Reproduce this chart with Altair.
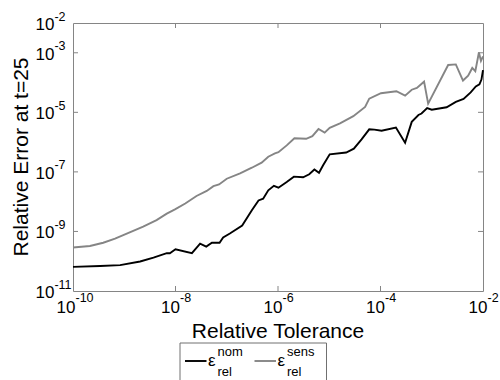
import altair as alt
import pandas as pd

# ---- data ----
tol_nom = [1e-10, 3.39e-10, 8.32e-10, 2.04e-9, 3.72e-9, 6.76e-9, 7.76e-9, 1e-8, 2.09e-8, 3.02e-8,
           3.98e-8, 5.13e-8, 7.24e-8, 8.51e-8, 1.15e-7, 2.0e-7, 3.09e-7, 4.17e-7, 5.13e-7, 6.46e-7,
           8.32e-7, 1.02e-6, 1.48e-6, 2.04e-6, 3.09e-6, 4.07e-6, 5.13e-6, 6.31e-6, 7.59e-6, 1.02e-5,
           2.14e-5, 3.02e-5, 4.27e-5, 6.03e-5, 7.59e-5, 1.05e-4, 2.0e-4, 3.02e-4, 4.07e-4, 5.50e-4,
           6.31e-4, 8.13e-4, 1e-3, 1.95e-3, 2.95e-3, 4.17e-3, 5.75e-3, 7.24e-3, 8.51e-3, 9.33e-3, 1e-2]
err_nom = [6.46e-11, 6.92e-11, 7.41e-11, 9.77e-11, 1.32e-10, 1.86e-10, 1.86e-10, 2.51e-10, 1.86e-10, 3.89e-10,
           3.09e-10, 4.17e-10, 4.17e-10, 6.31e-10, 8.51e-10, 1.58e-9, 5.13e-9, 1.10e-8, 1.26e-8, 2.40e-8,
           3.39e-8, 2.95e-8, 4.57e-8, 6.92e-8, 6.61e-8, 8.32e-8, 1.20e-7, 9.33e-8, 1.66e-7, 3.89e-7,
           4.47e-7, 6.03e-7, 1.23e-6, 2.69e-6, 2.63e-6, 2.40e-6, 3.09e-6, 9.55e-7, 4.79e-6, 8.13e-6,
           9.12e-6, 1.38e-5, 1.23e-5, 1.48e-5, 2.24e-5, 2.82e-5, 4.68e-5, 7.41e-5, 8.71e-5, 1.26e-4, 2.63e-4]

tol_sens = [1e-10, 2.14e-10, 3.89e-10, 6.61e-10, 1.12e-9, 2.34e-9, 4.27e-9, 6.76e-9, 9.77e-9, 1.55e-8,
            2.57e-8, 4.07e-8, 5.50e-8, 7.08e-8, 1e-7, 1.82e-7, 3.09e-7, 4.79e-7, 6.46e-7, 8.71e-7,
            1.02e-6, 1.48e-6, 2.09e-6, 3.55e-6, 4.68e-6, 6.17e-6, 8.13e-6, 1.02e-5, 1.62e-5, 2.95e-5,
            5.01e-5, 6.03e-5, 1.02e-4, 2.04e-4, 3.02e-4, 4.07e-4, 5.13e-4, 7.08e-4, 8.51e-4, 2.09e-3,
            2.95e-3, 4.07e-3, 5.13e-3, 6.17e-3, 7.08e-3, 8.32e-3, 9.12e-3, 1e-2]
err_sens = [2.88e-10, 3.24e-10, 4.17e-10, 5.75e-10, 8.51e-10, 1.45e-9, 2.40e-9, 3.98e-9, 5.50e-9, 8.71e-9,
            1.55e-8, 2.29e-8, 3.31e-8, 3.80e-8, 5.89e-8, 8.91e-8, 1.38e-7, 2.04e-7, 3.24e-7, 4.17e-7,
            4.57e-7, 7.76e-7, 1.35e-6, 1.29e-6, 1.58e-6, 2.75e-6, 2.09e-6, 3.02e-6, 4.27e-6, 7.41e-6,
            1.51e-5, 2.88e-5, 4.37e-5, 5.13e-5, 3.63e-5, 5.75e-5, 6.61e-5, 1.07e-4, 1.95e-5, 3.89e-4,
            4.07e-4, 1.17e-4, 1.70e-4, 3.09e-4, 2.40e-4, 1.02e-3, 5.37e-4, 7.59e-4]

x_tick_values = [1e-10, 1e-8, 1e-6, 1e-4, 1e-2]
x_tick_exps = ["-10", "-8", "-6", "-4", "-2"]
y_tick_values = [1e-2, 1e-3, 1e-5, 1e-7, 1e-9, 1e-11]
y_tick_exps = ["-2", "-3", "-5", "-7", "-9", "-11"]
x_inner_ticks = [1e-8, 1e-6, 1e-4]
y_inner_ticks = [1e-3, 1e-5, 1e-7, 1e-9]

x_title = "Relative Tolerance"
y_title = "Relative Error at t=25"
legend_symbol = "ε"
legend_sub = "rel"
legend_sups = ["nom", "sens"]

# ---- style ----
W, H = 410, 268
FONT = "Liberation Sans"
FRAME = "#858585"
GRAY = "#858585"

xs = alt.Scale(type="log", domain=[1e-10, 1e-2], nice=False)
ys = alt.Scale(type="log", domain=[1e-11, 1e-2], nice=False)

nom_df = pd.DataFrame({"tol": tol_nom, "err": err_nom})
sens_df = pd.DataFrame({"tol": tol_sens, "err": err_sens})

sens_line = alt.Chart(sens_df).mark_line(color=GRAY, strokeWidth=1.9).encode(
    x=alt.X("tol:Q", scale=xs, axis=None),
    y=alt.Y("err:Q", scale=ys, axis=None),
)
nom_line = alt.Chart(nom_df).mark_line(color="#000000", strokeWidth=1.9).encode(
    x=alt.X("tol:Q", scale=xs, axis=None),
    y=alt.Y("err:Q", scale=ys, axis=None),
)

xt_df = pd.DataFrame({"v": x_inner_ticks})
yt_df = pd.DataFrame({"v": y_inner_ticks})
tick_len = 5
xt_bottom = alt.Chart(xt_df).mark_rule(color=FRAME, strokeWidth=1).encode(
    x=alt.X("v:Q", scale=xs, axis=None), y=alt.value(H), y2=alt.value(H - tick_len))
xt_top = alt.Chart(xt_df).mark_rule(color=FRAME, strokeWidth=1).encode(
    x=alt.X("v:Q", scale=xs, axis=None), y=alt.value(0), y2=alt.value(tick_len))
yt_left = alt.Chart(yt_df).mark_rule(color=FRAME, strokeWidth=1).encode(
    y=alt.Y("v:Q", scale=ys, axis=None), x=alt.value(0), x2=alt.value(tick_len))
yt_right = alt.Chart(yt_df).mark_rule(color=FRAME, strokeWidth=1).encode(
    y=alt.Y("v:Q", scale=ys, axis=None), x=alt.value(W), x2=alt.value(W - tick_len))

BASE_FS = 17
EXP_FS = 12.5

xl_df = pd.DataFrame({"v": x_tick_values, "exp": x_tick_exps, "base": ["10"] * len(x_tick_values)})
yl_df = pd.DataFrame({"v": y_tick_values, "exp": y_tick_exps, "base": ["10"] * len(y_tick_values)})

def x_label_layers(cond, dx):
    base = alt.Chart(xl_df).transform_filter(cond).mark_text(
        font=FONT, fontSize=BASE_FS, align="right", baseline="alphabetic", dx=dx, color="#000000"
    ).encode(x=alt.X("v:Q", scale=xs, axis=None), y=alt.value(H + 22), text="base:N")
    exp = alt.Chart(xl_df).transform_filter(cond).mark_text(
        font=FONT, fontSize=EXP_FS, align="left", baseline="alphabetic", dx=dx, color="#000000"
    ).encode(x=alt.X("v:Q", scale=xs, axis=None), y=alt.value(H + 11), text="exp:N")
    return [base, exp]

xlab = x_label_layers("length(datum.exp) > 2", 2.5) + x_label_layers("length(datum.exp) <= 2", 4.5)

ylab_base = alt.Chart(yl_df).mark_text(
    font=FONT, fontSize=BASE_FS, align="left", baseline="alphabetic", dy=7, color="#000000"
).encode(y=alt.Y("v:Q", scale=ys, axis=None), x=alt.value(-37.5), text="base:N")
ylab_exp = alt.Chart(yl_df).mark_text(
    font=FONT, fontSize=EXP_FS, align="left", baseline="alphabetic", dy=-2.5, color="#000000"
).encode(y=alt.Y("v:Q", scale=ys, axis=None), x=alt.value(-18.6), text="exp:N")

xtitle = alt.Chart(pd.DataFrame({"t": [x_title]})).mark_text(
    font=FONT, fontSize=21, align="center", baseline="alphabetic", color="#000000"
).encode(x=alt.value(W / 2), y=alt.value(315), text="t:N")
ytitle = alt.Chart(pd.DataFrame({"t": [y_title]})).mark_text(
    font=FONT, fontSize=21, align="center", baseline="alphabetic", angle=270, color="#000000"
).encode(x=alt.value(-45), y=alt.value(H / 2), text="t:N")

# ---- legend (drawn by hand to get super/subscripts) ----
box = alt.Chart(pd.DataFrame({"k": [0]})).mark_rect(
    fill="white", stroke="#707070", strokeWidth=1
).encode(x=alt.value(107), x2=alt.value(253.5), y=alt.value(320), y2=alt.value(380))

leg_df = pd.DataFrame({
    "sym": [legend_symbol, legend_symbol],
    "sup": legend_sups,
    "sub": [legend_sub, legend_sub],
})
LX = [112, 181.5]   # start of each entry
LCOL = ["#000000", GRAY]
legend_layers = []
for i in range(2):
    row = leg_df.iloc[[i]]
    x0 = LX[i]
    legend_layers.append(alt.Chart(row).mark_rule(color=LCOL[i], strokeWidth=1.9).encode(
        x=alt.value(x0), x2=alt.value(x0 + 21.5), y=alt.value(338)))
    legend_layers.append(alt.Chart(row).mark_text(
        font=FONT, fontSize=17, align="left", baseline="alphabetic", color="#000000"
    ).encode(x=alt.value(x0 + 23), y=alt.value(342.5), text="sym:N"))
    legend_layers.append(alt.Chart(row).mark_text(
        font=FONT, fontSize=13, align="left", baseline="alphabetic", color="#000000"
    ).encode(x=alt.value(x0 + 32.5), y=alt.value(333), text="sup:N"))
    legend_layers.append(alt.Chart(row).mark_text(
        font=FONT, fontSize=13, align="left", baseline="alphabetic", color="#000000"
    ).encode(x=alt.value(x0 + 32.5), y=alt.value(353), text="sub:N"))

chart = alt.layer(
    sens_line, nom_line,
    xt_bottom, xt_top, yt_left, yt_right,
    *xlab, ylab_base, ylab_exp,
    xtitle, ytitle,
    box, *legend_layers,
).properties(
    width=W, height=H,
    autosize=alt.AutoSizeParams(type="none"),
    padding={"left": 73, "top": 23, "right": 17, "bottom": 89},
    background="white",
).configure_view(stroke=FRAME, strokeWidth=1)

chart.save("out.html", embed_options={"renderer": "svg", "actions": False})
